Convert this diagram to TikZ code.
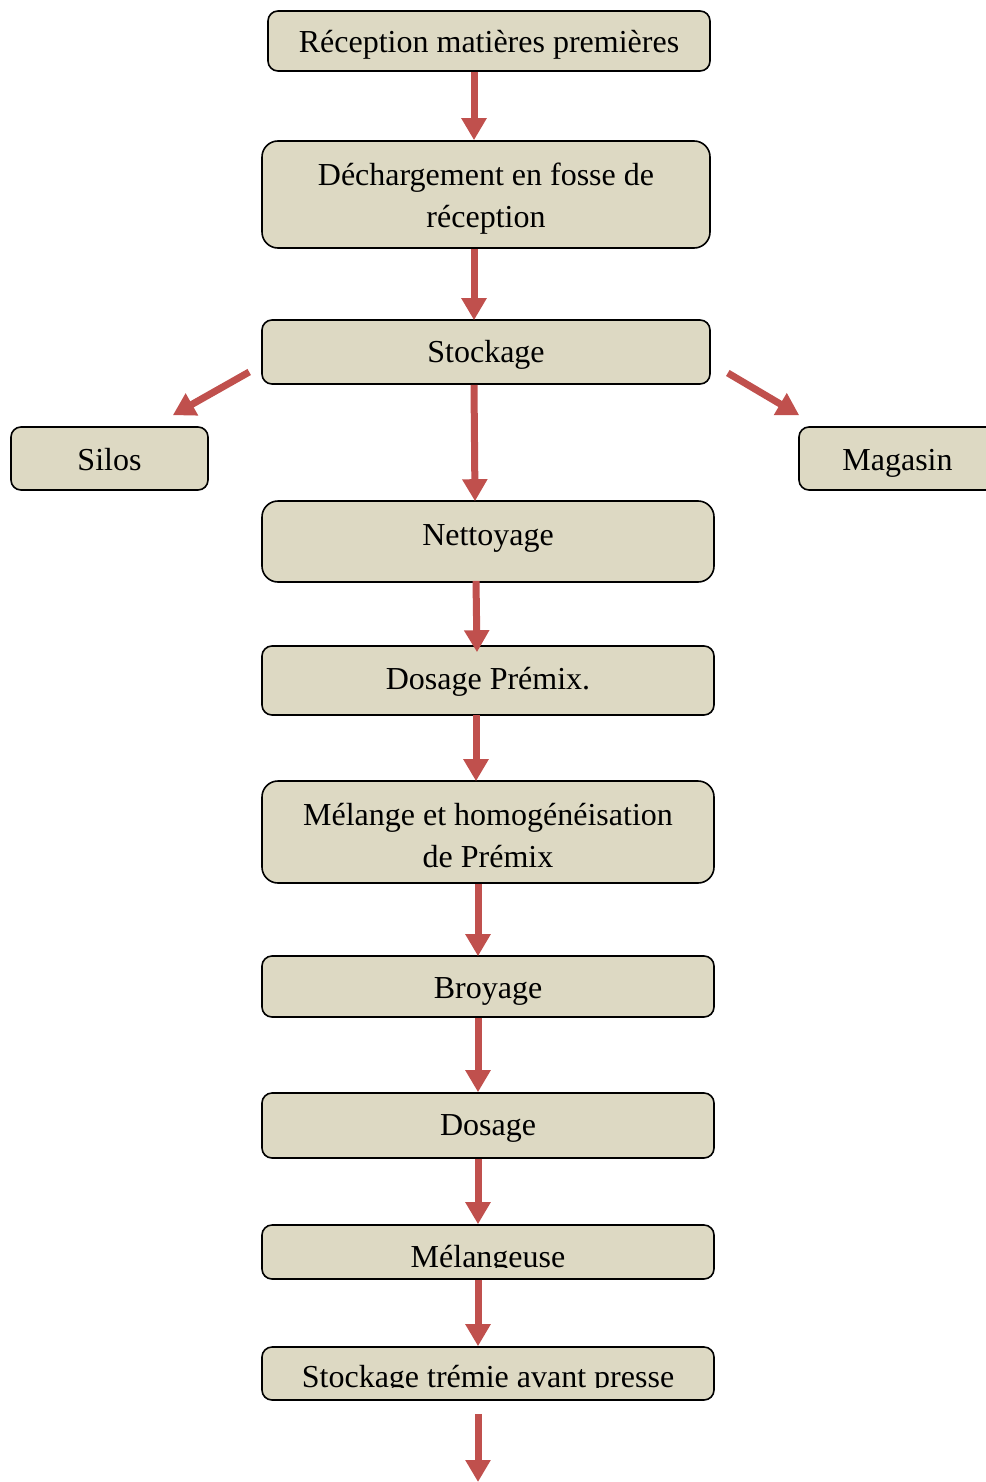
\documentclass[tikz,border=0pt]{standalone}
\usepackage{fontspec}
\setmainfont{Liberation Serif}
\usetikzlibrary{arrows.meta}
\definecolor{boxfill}{HTML}{DDD9C3}
\definecolor{arrowred}{HTML}{C0504D}
\begin{document}
\begin{tikzpicture}[x=1pt,y=-1pt,
  stepbox/.style={draw=black, line width=1.6pt, fill=boxfill, rounded corners=10pt,
    inner sep=0pt, align=center, font=\fontsize{32}{42}\selectfont},
  tallbox/.style={stepbox, rounded corners=16pt},
  steptext/.style={inner sep=0pt, anchor=base, font=\fontsize{32}{42}\selectfont},
  flow/.style={draw=arrowred, line width=7pt, -{Triangle[width=24pt,length=22pt]}}]
\useasboundingbox (0,0) rectangle (985,1482);

% process steps (text height/depth fix where the baseline sits in each box)
\node[stepbox, minimum width=442pt, minimum height=60pt, text height=28pt, text depth=4pt] (rec) at (489,41) {Réception matières premières};
\node[tallbox, minimum width=448pt, minimum height=107pt] (dech) at (486,194.5) {\rule{0pt}{30pt}Déchargement en fosse de\\réception};
\node[stepbox, minimum width=448pt, minimum height=64pt, text height=26pt, text depth=6pt] (stock) at (486,352) {Stockage};
\node[stepbox, minimum width=197pt, minimum height=63pt, text height=27.5pt, text depth=4.5pt] (silos) at (109.5,458.5) {Silos};
\node[stepbox, minimum width=197pt, minimum height=63pt, text height=27.5pt, text depth=4.5pt] (mag) at (897.5,458.5) {Magasin};
\node[tallbox, minimum width=452pt, minimum height=81pt, text height=19.5pt, text depth=12.5pt] (net) at (488,541.5) {Nettoyage};
\node[stepbox, minimum width=452pt, minimum height=69pt, text height=25pt, text depth=7pt] (dpx) at (488,680.5) {Dosage Prémix.};
\node[tallbox, minimum width=452pt, minimum height=102pt] (mel) at (488,832) {\rule{0pt}{30pt}Mélange et homogénéisation\\de Prémix};
\node[stepbox, minimum width=452pt, minimum height=61pt, text height=27.5pt, text depth=4.5pt] (broy) at (488,986.5) {Broyage};
\node[stepbox, minimum width=452pt, minimum height=65pt, text height=25.5pt, text depth=6.5pt] (dos) at (488,1125.5) {Dosage};
\node[stepbox, minimum width=452pt, minimum height=54pt] (mgs) at (488,1252) {};
\node[stepbox, minimum width=452pt, minimum height=53pt] (stt) at (488,1373.5) {};

% the two lower labels are cut off at the foot of their line
\begin{scope}
  \clip (262,1226) rectangle (714,1267.5);
  \node[steptext] (mgstext) at (488,1267) {Mélangeuse};
\end{scope}
\begin{scope}
  \clip (262,1348) rectangle (714,1387.5);
  \node[steptext] (stttext) at (488,1387) {Stockage trémie avant presse};
\end{scope}

\coordinate (out) at (478,1482);

% flow arrows
\draw[flow] ([xshift=-15pt]rec.south) -- ([xshift=-12pt]dech.north);
\draw[flow] ([xshift=-12pt]dech.south) -- ([xshift=-12pt,yshift=-1pt]stock.north);
\draw[flow] ([xshift=-12pt]stock.south) -- ([xshift=-13pt,yshift=-1pt]net.north);
\draw[flow] ([xshift=-12pt,yshift=-20pt]stock.west) -- ([xshift=-36pt,yshift=11pt]silos.north east);
\draw[flow] ([xshift=17pt,yshift=-21pt]stock.east) -- ([xshift=1pt,yshift=11pt]mag.north west);
\draw[flow] ([xshift=-12pt,yshift=2pt]net.south) -- ([xshift=-11pt,yshift=-7pt]dpx.north);
\draw[flow] ([xshift=-12pt,yshift=1pt]dpx.south) -- ([xshift=-12pt,yshift=-1pt]mel.north);
\draw[flow] ([xshift=-10pt]mel.south) -- ([xshift=-10pt,yshift=-1pt]broy.north);
\draw[flow] ([xshift=-10pt]broy.south) -- ([xshift=-10pt]dos.north);
\draw[flow] ([xshift=-10pt]dos.south) -- ([xshift=-10pt]mgs.north);
\draw[flow] ([xshift=-10pt]mgs.south) -- ([xshift=-10pt]stt.north);
\draw[flow] ([xshift=-10pt,yshift=-13pt]stt.south) -- (out);
\end{tikzpicture}
\end{document}
